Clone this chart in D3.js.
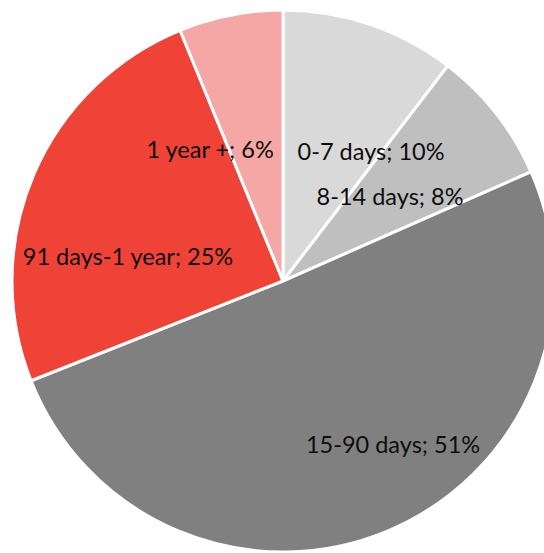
<!DOCTYPE html>
<html>
<head>
<meta charset="utf-8">
<script src="https://cdn.jsdelivr.net/npm/d3@7"></script>
<style>
  html, body { margin: 0; padding: 0; background: #fff; }
  svg { display: block; }
</style>
</head>
<body>
<svg id="chart" width="544" height="553"></svg>
<script>
// Data
const categories = ["0-7 days", "8-14 days", "15-90 days", "91 days-1 year", "1 year +"];
const values = [10.4, 8.0, 50.6, 24.8, 6.2];
const colors = ["#d9d9d9", "#bfbfbf", "#808080", "#ef4338", "#f4a7a4"];
// label anchor positions relative to pie centre, as fractions of radius (Excel best-fit placement)
const labelFx = [0.325, 0.395, 0.406, -0.572, -0.269];
const labelFy = [-0.446, -0.280, 0.635, -0.059, -0.454];

const W = 544, H = 553;
const cx = 283, cy = 281, R = 271;

const svg = d3.select("#chart");
const g = svg.append("g").attr("transform", `translate(${cx},${cy})`);

const total = d3.sum(values);
const pie = d3.pie().sort(null).value(d => d)(values);
const arc = d3.arc().innerRadius(0).outerRadius(R);

g.selectAll("path.slice")
  .data(pie)
  .join("path")
  .attr("class", "slice")
  .attr("d", arc)
  .attr("fill", (d, i) => colors[i])
  .attr("stroke", "#ffffff")
  .attr("stroke-width", 3)
  .attr("stroke-linejoin", "miter");

const x = d3.scaleLinear().domain([-1, 1]).range([-R, R]);

g.selectAll("text.lbl")
  .data(pie)
  .join("text")
  .attr("class", "lbl")
  .attr("x", (d, i) => x(labelFx[i]))
  .attr("y", (d, i) => x(labelFy[i]))
  .attr("text-anchor", "middle")
  .attr("font-family", "Lato, 'Open Sans', sans-serif")
  .attr("font-size", 23.5)
  .attr("fill", "#0d0d0d")
  .text((d, i) => `${categories[i]}; ${Math.round(values[i] / total * 100)}%`);
</script>
</body>
</html>
